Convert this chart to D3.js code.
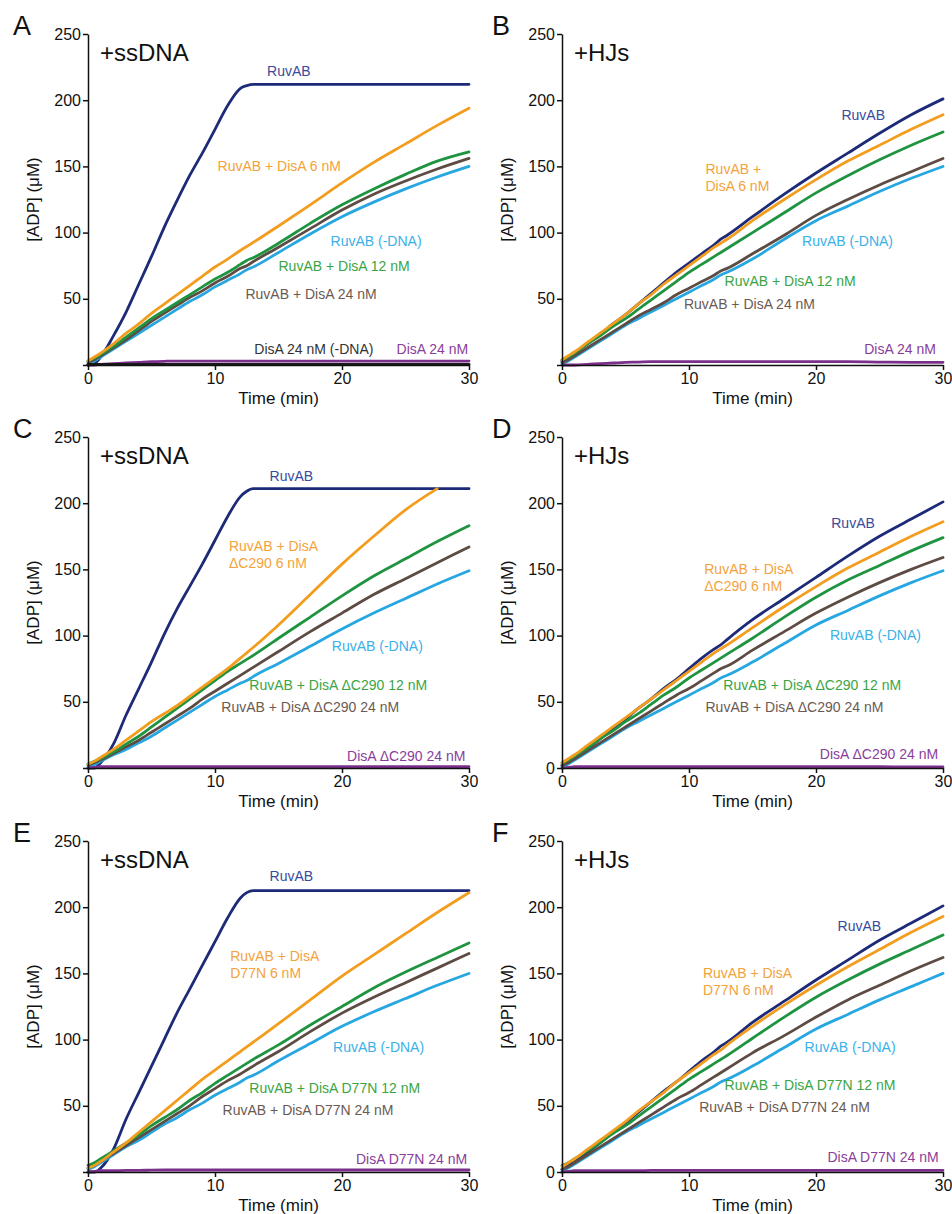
<!DOCTYPE html>
<html>
<head>
<meta charset="utf-8">
<script src="https://cdn.jsdelivr.net/npm/d3@7"></script>
<style>
  body { margin: 0; background: #fff; }
  svg { display: block; font-family: "Liberation Sans", Arial, Helvetica, sans-serif; }
  .axis path, .axis line { stroke: #111; stroke-width: 1.5px; }
  .axis text { font-size: 16px; fill: #111; font-family: "Liberation Sans", Arial, sans-serif; }
</style>
</head>
<body>
<svg id="chart" width="952" height="1214"></svg>
<script>
// time points (min), shared by every trace
const times = [0, 0.5, 1, 2, 3, 4, 5, 6, 7, 8, 9, 10, 11, 12, 12.5, 13, 15, 17.5, 20, 22.5, 25, 27.5, 30];

// [ADP] (uM), one row per panel A..F
const ruvab = [
  [0, 1, 6, 22, 40, 61, 82, 104, 124, 143, 160, 178, 196, 209, 211, 212, 212, 212, 212, 212, 212, 212, 212],
  [3, 6, 9, 16, 23, 31, 38, 46, 54, 62, 70, 77, 84, 91, 95, 98, 112, 129, 145, 160, 175, 189, 201],
  [0, 0, 4, 18, 40, 60, 80, 101, 120, 137, 154, 172, 190, 205, 209, 211, 211, 211, 211, 211, 211, 211, 211],
  [2, 5, 8, 15, 22, 30, 37, 45, 52, 60, 67, 75, 83, 90, 93, 97, 112, 128, 144, 160, 175, 188, 201],
  [0, 0, 3, 17, 40, 60, 80, 100, 120, 138, 156, 174, 192, 207, 211, 212.5, 212.5, 212.5, 212.5, 212.5, 212.5, 212.5, 212.5],
  [2, 5, 8, 15, 22, 30, 37, 45, 53, 61, 68, 76, 84, 91, 95, 98, 113, 129, 145, 160, 175, 188, 201]
];
const disa6 = [
  [3, 6, 9, 16, 24, 31, 39, 46, 53, 60, 67, 74, 80, 86.5, 89.5, 92.5, 105, 121, 137.5, 153, 167, 181, 194],
  [4, 7, 10, 17, 24, 31, 38, 46, 53, 61, 68, 75, 82, 89, 92, 95, 109, 125, 140, 154, 166, 178, 189],
  [3, 5, 8, 14, 21, 28, 35, 41, 47, 54, 61, 68, 75, 83, 87, 91, 108, 131, 154, 175, 195, 211, null],
  [4, 7, 10, 17, 24, 31, 38, 45, 52, 59, 66, 73, 80, 87, 90, 93, 106, 122, 137, 151, 163, 175, 186],
  [3, 5, 8, 15, 22, 30, 38, 46, 54, 62, 70, 77, 84, 91, 94.5, 98, 112, 130, 148, 164, 180, 196, 211],
  [4, 7, 10, 17, 24, 31, 38, 46, 53, 60, 68, 75, 82, 89, 92, 96, 110, 126, 141, 155, 168, 181, 193]
];
const disa12 = [
  [3, 5, 8, 14, 21, 28, 35, 41, 47, 53, 59, 65, 70, 76, 79, 81, 92, 107, 121, 133, 144, 154, 161],
  [4, 6, 9, 16, 22, 29, 35, 42, 49, 56, 63, 70, 76, 82, 85, 88, 100, 115, 130, 143, 155, 166, 176],
  [3, 5, 7, 12, 18, 24, 31, 38, 45, 52, 59, 66, 73, 79, 82, 85, 98, 114, 130, 145, 158, 171, 183],
  [4, 6, 9, 15, 22, 28, 35, 41, 48, 55, 61, 68, 74, 80, 83, 86, 98, 114, 129, 142, 153, 164, 174],
  [5, 7, 10, 16, 22, 28, 35, 41, 47, 54, 60, 67, 73, 79, 82, 85, 96, 111, 125, 139, 151, 162, 173],
  [5, 7, 10, 16, 22, 29, 35, 42, 49, 56, 63, 70, 76, 82, 85, 88, 101, 117, 132, 145, 157, 168, 179]
];
const disa24 = [
  [2, 4, 7, 13, 19, 26, 33, 39, 45, 51, 56, 62, 67, 73, 75, 78, 89, 103, 117, 129, 139, 148, 156],
  [2, 4, 7, 13, 19, 25, 31, 37, 42, 47, 53, 58, 63, 68, 71, 73, 84, 98, 113, 125, 136, 146, 156],
  [2, 4, 6, 11, 16, 21, 27, 33, 39, 45, 52, 58, 64, 70, 73, 76, 88, 103, 117, 131, 143, 155, 167],
  [2, 4, 7, 13, 19, 25, 31, 37, 43, 49, 55, 60, 66, 72, 75, 77, 89, 103, 117, 129, 140, 150, 159],
  [3, 5, 8, 14, 20, 26, 32, 38, 44, 50, 57, 63, 69, 74, 77, 80, 91, 106, 120, 132, 143, 154, 165],
  [2, 4, 7, 13, 19, 25, 31, 37, 43, 49, 55, 60, 66, 72, 75, 78, 90, 103, 117, 130, 141, 152, 162]
];
const ruvabNoDna = [
  [0, 3, 6, 12, 18, 24, 30, 36, 42, 48, 53, 59, 64, 69, 72, 74, 85, 99, 112, 123, 133, 142, 150],
  [1, 3, 6, 12, 18, 24, 30, 35, 40, 45, 50, 55, 60, 65, 68, 70, 80, 95, 109, 120, 131, 141, 150],
  [0, 2.5, 5, 10, 14, 19, 24, 30, 36, 42, 48, 54, 59, 64, 66, 69, 79, 92, 105, 117, 128, 139, 149],
  [1, 3, 6, 12, 18, 24, 30, 35, 40, 45, 50, 55, 60, 65, 68, 70, 80, 94, 108, 119, 130, 140, 149],
  [2, 4, 7, 13, 19, 24, 30, 36, 41, 47, 52, 58, 63, 68, 71, 73, 84, 97, 110, 121, 131, 141, 150],
  [1, 3, 6, 12, 18, 24, 30, 35, 40, 45, 50, 55, 60, 65, 68, 70, 80, 94, 108, 119, 130, 140, 150]
];
const disaOnly = [
  [0, 0, 0.5, 1, 1.5, 2, 2.5, 2.8, 3, 3, 3, 3, 3, 3, 3, 3, 3, 3, 3, 3, 3, 3, 3],
  [0, 0, 0, 0.5, 1, 1.5, 2, 2.2, 2.5, 2.5, 2.5, 2.5, 2.5, 2.5, 2.5, 2.5, 2.5, 2.5, 2.5, 2.5, 2.2, 2, 2],
  [0, 0.5, 1, 1, 1, 1, 1, 1, 1, 1, 1, 1, 1, 1, 1, 1, 1, 1, 1, 1, 1, 1, 1],
  [0, 0.5, 1, 1, 1, 1, 1, 1, 1, 1, 1, 1, 1, 1, 1, 1, 1, 1, 1, 1, 1, 0.8, 0.8],
  [0, 0.5, 1, 1, 1.2, 1.2, 1.4, 1.5, 1.5, 1.5, 1.5, 1.5, 1.5, 1.5, 1.5, 1.5, 1.5, 1.5, 1.5, 1.5, 1.5, 1.5, 1.5],
  [0, 0.5, 1, 1, 1, 1, 1, 1, 1.2, 1.2, 1.2, 1.2, 1.2, 1.2, 1.2, 1.2, 1.2, 1.2, 1.2, 1.2, 1.2, 1.2, 1.2]
];
// DisA 24 nM without DNA, only in panel A
const disaNoDnaA = [0.5, 0.5, 0.5, 0.5, 0.5, 0.5, 0.5, 0.5, 0.5, 0.5, 0.5, 0.5, 0.5, 0.5, 0.5, 0.5, 0.5, 0.5, 0.5, 0.5, 0.5, 0.5, 0.5];

const panelLetters = ["A", "B", "C", "D", "E", "F"];
const substrates = ["+ssDNA", "+HJs", "+ssDNA", "+HJs", "+ssDNA", "+HJs"];
const showZero = [false, false, false, true, false, true];
const yTicks = [0, 50, 100, 150, 200, 250];
const xTicks = [0, 10, 20, 30];

// label text per panel
const ruvabText = ["RuvAB", "RuvAB", "RuvAB", "RuvAB", "RuvAB", "RuvAB"];
const disa6Text = [
  ["RuvAB + DisA 6 nM"], ["RuvAB +", "DisA 6 nM"],
  ["RuvAB + DisA", "\u0394C290 6 nM"], ["RuvAB + DisA", "\u0394C290 6 nM"],
  ["RuvAB + DisA", "D77N 6 nM"], ["RuvAB + DisA", "D77N 6 nM"]
];
const disa12Text = ["RuvAB + DisA 12 nM", "RuvAB + DisA 12 nM", "RuvAB + DisA \u0394C290 12 nM",
  "RuvAB + DisA \u0394C290 12 nM", "RuvAB + DisA D77N 12 nM", "RuvAB + DisA D77N 12 nM"];
const disa24Text = ["RuvAB + DisA 24 nM", "RuvAB + DisA 24 nM", "RuvAB + DisA \u0394C290 24 nM",
  "RuvAB + DisA \u0394C290 24 nM", "RuvAB + DisA D77N 24 nM", "RuvAB + DisA D77N 24 nM"];
const noDnaText = ["RuvAB (-DNA)", "RuvAB (-DNA)", "RuvAB (-DNA)", "RuvAB (-DNA)", "RuvAB (-DNA)", "RuvAB (-DNA)"];
const disaOnlyText = ["DisA 24 nM", "DisA 24 nM", "DisA \u0394C290 24 nM", "DisA \u0394C290 24 nM",
  "DisA D77N 24 nM", "DisA D77N 24 nM"];

// label anchors in data units [time, ADP] (left edge, baseline)
const ruvabAt = [[14.1, 218], [22.0, 185], [14.3, 217], [21.2, 181], [14.3, 220], [21.7, 182]];
const disa6At = [[10.2, 146.5], [11.3, 144], [11.1, 164], [11.2, 146.5], [11.2, 159.4], [11.1, 146.5]];
const disa12At = [[15.0, 71], [12.8, 60], [12.7, 59], [12.7, 59], [12.7, 59.7], [12.8, 62]];
const disa24At = [[12.4, 50], [9.6, 42], [10.5, 42.3], [11.3, 42.3], [10.6, 43], [10.8, 45.3]];
const noDnaAt = [[19.1, 90], [18.9, 90], [19.2, 88.4], [21.1, 96.7], [19.3, 90.6], [19.1, 90.6]];
const disaOnlyAt = [[24.3, 8.3], [23.8, 8.3], [20.4, 5.3], [20.3, 6.8], [21.1, 6], [20.9, 7.6]];

const colors = {
  navy: "#1d2a78", orange: "#f39d1e", green: "#1f9440", brown: "#5d4b44",
  blue: "#27a7e1", purple: "#7b2f8c", black: "#1a1a1a"
};
const labelColors = {
  navy: "#3a4a9c", orange: "#f4a23a", green: "#3aa545", brown: "#6b5a52",
  blue: "#3ab1e8", purple: "#8a3d9a", black: "#333333"
};

const svg = d3.select("#chart");
const colLeft = [88, 562];
const rowTop = [34, 437, 841];
const plotW = 381, plotH = 331;

panelLetters.forEach((letter, i) => {
  const left = colLeft[i % 2];
  const top = rowTop[Math.floor(i / 2)];
  const g = svg.append("g").attr("transform", `translate(${left},${top})`);

  const x = d3.scaleLinear().domain([0, 30]).range([0, plotW]);
  const y = d3.scaleLinear().domain([0, 250]).range([plotH, 0]);

  const line = d3.line()
    .defined(d => d[1] != null)
    .x(d => x(d[0]))
    .y(d => y(d[1]))
    .curve(d3.curveMonotoneX);

  const traces = [
    { vals: ruvab[i], c: colors.navy },
    { vals: ruvabNoDna[i], c: colors.blue },
    { vals: disa24[i], c: colors.brown },
    { vals: disa12[i], c: colors.green },
    { vals: disa6[i], c: colors.orange },
    { vals: disaOnly[i], c: colors.purple }
  ];
  if (i === 0) traces.push({ vals: disaNoDnaA, c: colors.black });

  traces.forEach(t => {
    g.append("path")
      .datum(times.map((tm, k) => [tm, t.vals[k]]))
      .attr("d", line)
      .attr("fill", "none")
      .attr("stroke", t.c)
      .attr("stroke-width", 2.8)
      .attr("stroke-linejoin", "round")
      .attr("stroke-linecap", "round");
  });

  // axes
  g.append("g").attr("class", "axis")
    .attr("transform", `translate(0,${plotH})`)
    .call(d3.axisBottom(x).tickValues(xTicks).tickSize(5).tickSizeOuter(0).tickPadding(3));
  g.append("g").attr("class", "axis")
    .call(d3.axisLeft(y).tickValues(yTicks).tickSize(5).tickSizeOuter(0).tickPadding(2)
      .tickFormat(v => (v === 0 && !showZero[i]) ? "" : v));

  // titles
  g.append("text")
    .attr("x", plotW / 2).attr("y", plotH + 39)
    .attr("text-anchor", "middle")
    .attr("font-size", 17).attr("fill", "#111")
    .text("Time (min)");
  g.append("text")
    .attr("transform", `translate(-49,${plotH / 2}) rotate(-90)`)
    .attr("text-anchor", "middle")
    .attr("font-size", 17).attr("fill", "#111")
    .text("[ADP] (\u03BCM)");
  g.append("text")
    .attr("x", -75 + (i % 2) * 5).attr("y", 1)
    .attr("font-size", 27).attr("fill", "#111")
    .text(letter);
  g.append("text")
    .attr("x", 12).attr("y", 27)
    .attr("font-size", 24).attr("fill", "#111")
    .text(substrates[i]);

  // curve labels
  const labels = [
    { lines: [ruvabText[i]], at: ruvabAt[i], c: labelColors.navy },
    { lines: disa6Text[i], at: disa6At[i], c: labelColors.orange },
    { lines: [disa12Text[i]], at: disa12At[i], c: labelColors.green },
    { lines: [disa24Text[i]], at: disa24At[i], c: labelColors.brown },
    { lines: [noDnaText[i]], at: noDnaAt[i], c: labelColors.blue },
    { lines: [disaOnlyText[i]], at: disaOnlyAt[i], c: labelColors.purple }
  ];
  if (i === 0) labels.push({ lines: ["DisA 24 nM (-DNA)"], at: [13.1, 8.3], c: labelColors.black });

  labels.forEach(l => {
    const t = g.append("text")
      .attr("x", x(l.at[0])).attr("y", y(l.at[1]))
      .attr("font-size", 14).attr("fill", l.c);
    l.lines.forEach((s, k) => {
      t.append("tspan")
        .attr("x", x(l.at[0]))
        .attr("dy", k === 0 ? 0 : 17)
        .text(s);
    });
  });
});
</script>
</body>
</html>
